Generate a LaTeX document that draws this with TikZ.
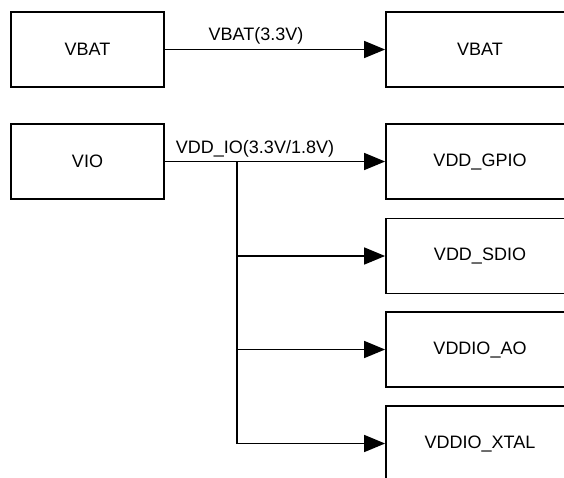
\documentclass[tikz,border=0pt]{standalone}
\usepackage{fontspec}
\setmainfont{Liberation Sans}
\usepackage{tikz}
\usetikzlibrary{arrows.meta,positioning}
\tikzstyle{block} = [rectangle, minimum width=153pt, minimum height=75pt, text centered, draw=black, line width=1.8pt, font=\fontsize{18}{20}\selectfont]
\tikzstyle{wideblock} = [block, minimum width=188pt]
\tikzstyle{arrow} = [line width=1.6pt, -{Triangle[length=21pt,width=17pt]}]
\tikzstyle{rail} = [font=\fontsize{18}{20}\selectfont, inner sep=0pt, anchor=base]

\begin{document}
\begin{tikzpicture}[x=1pt,y=-1pt]
\useasboundingbox (0,0) rectangle (564,477);
\clip (0,0) rectangle (564,477);

% Sources
\node[block] (vbat) at (87.5,49.5) {VBAT};
\node[block] (vio) at (87.5,161.5) {VIO};

% Loads
\node[wideblock] (vbatin) at (480,49.5) {VBAT};
\node[wideblock] (gpio) at (480,161.5) {VDD\_GPIO};
\node[wideblock] (sdio) at (480,256) {VDD\_SDIO};
\node[wideblock] (ao) at (480,349.5) {VDDIO\_AO};
\node[wideblock] (xtal) at (480,443.5) {VDDIO\_XTAL};

% Rail names
\node[rail] (vbatrail) at (256,40) {VBAT(3.3V)};
\node[rail] (viorail) at (255,153) {VDD\_IO(3.3V/1.8V)};

% Arrows
\coordinate (tap) at (237,161.5);
\draw[arrow] (vbat) -- (vbatin);
\draw[arrow] (vio) -- (gpio);
\draw[arrow] (tap) |- (sdio);
\draw[arrow] (tap) |- (ao);
\draw[arrow] (tap) |- (xtal);
\end{tikzpicture}
\end{document}
